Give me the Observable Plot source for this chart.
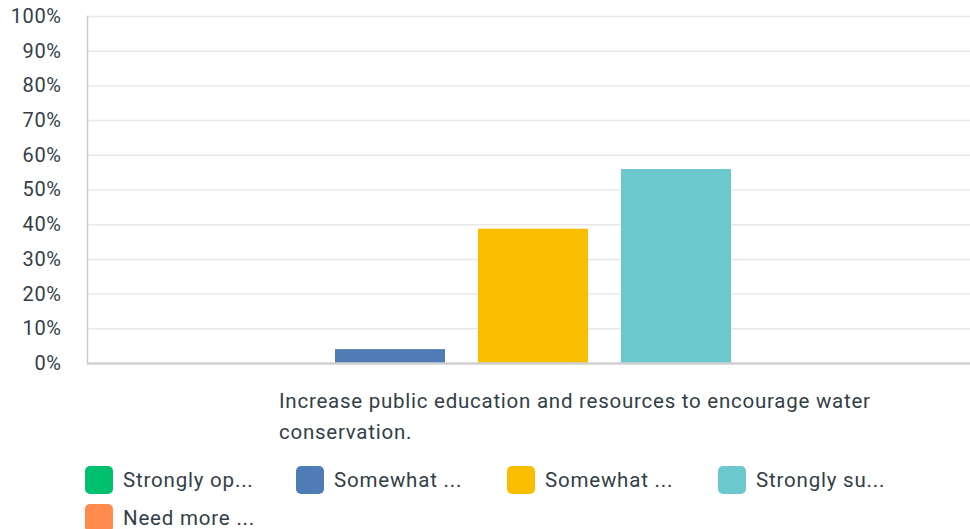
<!DOCTYPE html>
<html>
<head>
<meta charset="utf-8">
<script src="https://cdn.jsdelivr.net/npm/d3@7"></script>
<script src="https://cdn.jsdelivr.net/npm/@observablehq/plot@0.6"></script>
<style>
  html, body { margin: 0; padding: 0; background: #fff; }
  #wrap { position: relative; width: 970px; height: 529px; overflow: hidden; font-family: Roboto, "Noto Sans", sans-serif; color: #333e48; }
  #chart { position: absolute; left: 0; top: 0; }
  #chart svg text { letter-spacing: 0.6px; }
  #cat { position: absolute; left: 279px; top: 386px; width: 660px; font-size: 20.5px; letter-spacing: 0.75px; line-height: 31px; color: #333e48; }
  #legend { position: absolute; left: 85px; top: 461px; width: 880px; display: flex; flex-wrap: wrap; }
  .item { width: 211px; height: 38px; display: flex; align-items: center; font-size: 20.5px; letter-spacing: 0.8px; color: #333e48; }
  .sw { width: 28px; height: 28px; border-radius: 5px; margin-right: 10px; flex: none; }
</style>
</head>
<body>
<div id="wrap">
  <div id="chart"></div>
  <div id="cat"></div>
  <div id="legend"></div>
</div>
<script>
const question = "Increase public education and resources to encourage water conservation.";
const answers = ["Strongly oppose", "Somewhat oppose", "Somewhat support", "Strongly support", "Need more information"];
const legendLabels = ["Strongly op...", "Somewhat ...", "Somewhat ...", "Strongly su...", "Need more ..."];
const percents = [0, 4.0, 38.7, 55.9, 0];
const colors = ["#00bf6f", "#507cb6", "#f9be00", "#6bc8cd", "#ff8b4f"];
const yTicks = [0, 10, 20, 30, 40, 50, 60, 70, 80, 90, 100];

const data = answers.map((a, i) => ({answer: a, value: percents[i]}));

const chart = Plot.plot({
  width: 970,
  height: 380,
  marginTop: 16,
  marginBottom: 17,
  marginLeft: 87,
  marginRight: 0,
  style: {fontFamily: "Roboto, 'Noto Sans', sans-serif", fontSize: "20px", color: "#333e48", background: "#fff"},
  x: {domain: answers, paddingInner: 0.2308, paddingOuter: 0.7, align: 0.52, axis: null},
  y: {domain: [0, 100], ticks: yTicks, tickFormat: d => d + "%", label: null, tickSize: 0, tickPadding: 26},
  color: {domain: answers, range: colors},
  marks: [
    Plot.gridY(yTicks.filter(d => d > 0), {stroke: "#e8e8e8", strokeOpacity: 1, strokeWidth: 1.5}),
    Plot.axisY({ticks: yTicks, tickFormat: d => d + "%", tickSize: 0, tickPadding: 26, label: null, fill: "#333e48"}),
    Plot.barY(data, {x: "answer", y: "value", fill: "answer"}),
    Plot.frame({anchor: "left", stroke: "#cccccc", strokeWidth: 1.5}),
    Plot.ruleY([0], {stroke: "#d0d0d0", strokeWidth: 2.5})
  ]
});
document.getElementById("chart").appendChild(chart);

document.getElementById("cat").textContent = question;

const legend = document.getElementById("legend");
answers.forEach((a, i) => {
  const item = document.createElement("div");
  item.className = "item";
  const sw = document.createElement("span");
  sw.className = "sw";
  sw.style.background = colors[i];
  const t = document.createElement("span");
  t.textContent = legendLabels[i];
  item.appendChild(sw);
  item.appendChild(t);
  legend.appendChild(item);
});
</script>
</body>
</html>
